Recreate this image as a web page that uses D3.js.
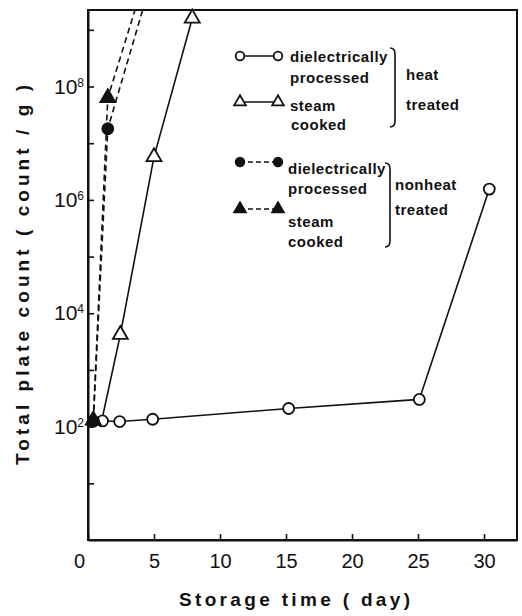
<!DOCTYPE html>
<html>
<head>
<meta charset="utf-8">
<script src="https://cdn.jsdelivr.net/npm/d3@7"></script>
<style>
  body { margin: 0; background: #fff; }
  text { font-family: "Liberation Sans", Arial, sans-serif; fill: #111; }
</style>
</head>
<body>
<div id="chart"></div>
<script>
// Data (storage time in days, count per g)
//= ================================
var heatDielDays = [1.1, 2.4, 4.9, 15.2, 25.1, 30.4];
var heatDielCounts = [126, 123, 135, 209, 302, 1.55e6];

var heatSteamDays = [1.1, 2.45, 5.0, 7.9];
var heatSteamCounts = [148, 4200, 5.75e6, 1.6e9];

// nonheat series run off the top of the plot
var nonDielDays = [0.4, 1.5, 4.5];
var nonDielCounts = [125, 1.8e7, 4.3e9];

var nonSteamDays = [0.4, 1.5, 4.0];
var nonSteamCounts = [130, 6.3e7, 4.8e9];

var xTicks = [0, 5, 10, 15, 20, 25, 30];
var yTicks = [1e1, 1e2, 1e3, 1e4, 1e5, 1e6, 1e7, 1e8, 1e9];
var yLabelExps = [2, 4, 6, 8];

// Step 1: chart size
//= ================================
var svgWidth = 522;
var svgHeight = 616;
var margin = { top: 10, right: 5, bottom: 76, left: 88 };
var width = svgWidth - margin.left - margin.right;
var height = svgHeight - margin.top - margin.bottom;

var svg = d3.select("#chart").append("svg")
  .attr("width", svgWidth)
  .attr("height", svgHeight);

var chartGroup = svg.append("g")
  .attr("transform", `translate(${margin.left}, ${margin.top})`);

var x = d3.scaleLinear().domain([0, 32.5]).range([0, width]);
var y = d3.scaleLog().domain([1, Math.pow(10, 9.35)]).range([height, 0]);

// frame
chartGroup.append("rect")
  .attr("width", width)
  .attr("height", height)
  .attr("fill", "none")
  .attr("stroke", "#111")
  .attr("stroke-width", 2);

// Step 2: axes (ticks point inward)
//= ================================
var xAxisG = chartGroup.append("g")
  .attr("transform", `translate(0,${height})`)
  .call(d3.axisBottom(x).tickValues(xTicks).tickSizeInner(-6).tickSizeOuter(0).tickPadding(14));

xAxisG.selectAll(".tick text")
  .attr("font-size", "20px")
  .attr("font-family", "Liberation Sans, Arial, sans-serif")
  .attr("dx", function (d) { return d === 0 ? "-9px" : 0; });

var yAxisG = chartGroup.append("g")
  .call(d3.axisLeft(y).tickValues(yTicks).tickSizeInner(-6).tickSizeOuter(0).tickPadding(4));

yAxisG.selectAll(".tick text")
  .attr("font-size", "21px")
  .attr("font-family", "Liberation Sans, Arial, sans-serif")
  .each(function (d) {
    var e = Math.round(Math.log10(d));
    var t = d3.select(this).text("");
    if (yLabelExps.indexOf(e) >= 0) {
      t.text("10");
      t.append("tspan").attr("dy", "-0.6em").attr("font-size", "12px").text(e);
    }
  });

chartGroup.selectAll(".domain").attr("stroke", "#111").attr("stroke-width", 2);
chartGroup.selectAll(".tick line").attr("stroke", "#111").attr("stroke-width", 1.6);

// axis titles
svg.append("text")
  .attr("transform", "translate(29, 275) rotate(-90)")
  .attr("text-anchor", "middle")
  .attr("font-size", "19px")
  .attr("font-weight", "bold")
  .attr("textLength", 380)
  .attr("lengthAdjust", "spacing")
  .text("Total  plate  count ( count / g )");

svg.append("text")
  .attr("x", 179)
  .attr("y", 606)
  .attr("font-size", "19px")
  .attr("font-weight", "bold")
  .attr("textLength", 231)
  .attr("lengthAdjust", "spacing")
  .text("Storage  time ( day)");

// Step 3: series
//= ================================
function zip(days, counts) {
  return days.map(function (d, i) { return { day: d, count: counts[i], i: i }; });
}

var series = [
  { key: "heatDiel", data: zip(heatDielDays, heatDielCounts), dash: null, shape: "circle", fill: "#fff", skipFirst: false },
  { key: "heatSteam", data: zip(heatSteamDays, heatSteamCounts), dash: null, shape: "triangle", fill: "#fff", skipFirst: true },
  { key: "nonDiel", data: zip(nonDielDays, nonDielCounts), dash: "6,4", shape: "circle", fill: "#111", skipFirst: false },
  { key: "nonSteam", data: zip(nonSteamDays, nonSteamCounts), dash: "6,4", shape: "triangle", fill: "#111", skipFirst: false }
];

svg.append("defs").append("clipPath").attr("id", "plotClip")
  .append("rect").attr("width", width).attr("height", height);

var line = d3.line()
  .x(function (d) { return x(d.day); })
  .y(function (d) { return y(d.count); });

var plot = chartGroup.append("g").attr("clip-path", "url(#plotClip)");

plot.selectAll("path.series")
  .data(series)
  .enter()
  .append("path")
    .attr("class", "series")
    .attr("d", function (s) { return line(s.data); })
    .attr("fill", "none")
    .attr("stroke", "#111")
    .attr("stroke-width", 1.6)
    .attr("stroke-dasharray", function (s) { return s.dash; });

function drawMarker(g, shape, fill, r) {
  if (shape === "circle") {
    g.append("circle").attr("r", r).attr("fill", fill).attr("stroke", "#111").attr("stroke-width", 1.8);
  } else {
    g.append("path").attr("d", d3.symbol().type(d3.symbolTriangle).size(r * r * 3.2)())
      .attr("fill", fill).attr("stroke", "#111").attr("stroke-width", 1.8);
  }
}

series.forEach(function (s) {
  var pts = s.data.filter(function (d) {
    return !(s.skipFirst && d.i === 0) && d.count <= y.domain()[1];
  });
  pts.forEach(function (d) {
    var g = chartGroup.append("g").attr("transform", `translate(${x(d.day)},${y(d.count)})`);
    drawMarker(g, s.shape, s.fill, 5.5);
  });
});

// Step 4: legend
//= ================================
var legendRows = [
  { y: 56, shape: "circle", fill: "#fff", dash: null },
  { y: 102, shape: "triangle", fill: "#fff", dash: null },
  { y: 162, shape: "circle", fill: "#111", dash: "5,3" },
  { y: 209, shape: "triangle", fill: "#111", dash: "5,3" }
];

legendRows.forEach(function (r) {
  svg.append("line")
    .attr("x1", 240).attr("x2", 278).attr("y1", r.y).attr("y2", r.y)
    .attr("stroke", "#111").attr("stroke-width", 1.5)
    .attr("stroke-dasharray", r.dash);
  [240, 278].forEach(function (cx) {
    drawMarker(svg.append("g").attr("transform", `translate(${cx},${r.y})`), r.shape, r.fill, 4.3);
  });
});

var legendText = [
  { x: 290, y: 62, t: "dielectrically" },
  { x: 290, y: 83, t: "processed" },
  { x: 290, y: 111, t: "steam" },
  { x: 291, y: 130, t: "cooked" },
  { x: 406, y: 80, t: "heat" },
  { x: 406, y: 110, t: "treated" },
  { x: 288, y: 174, t: "dielectrically" },
  { x: 288, y: 194, t: "processed" },
  { x: 288, y: 227, t: "steam" },
  { x: 288, y: 247, t: "cooked" },
  { x: 395, y: 190, t: "nonheat" },
  { x: 395, y: 215, t: "treated" }
];

svg.selectAll("text.legend")
  .data(legendText)
  .enter()
  .append("text")
    .attr("class", "legend")
    .attr("x", function (d) { return d.x; })
    .attr("y", function (d) { return d.y; })
    .attr("font-size", "15px")
    .attr("font-weight", "bold")
    .attr("letter-spacing", "0.5px")
    .text(function (d) { return d.t; });

// braces grouping the legend entries
[[395, 48, 127], [390, 163, 247]].forEach(function (b) {
  var bx = b[0], y0 = b[1], y1 = b[2];
  svg.append("path")
    .attr("d", `M${bx - 5},${y0} Q${bx},${y0} ${bx},${y0 + 6} L${bx},${y1 - 6} Q${bx},${y1} ${bx - 5},${y1}`)
    .attr("fill", "none")
    .attr("stroke", "#111")
    .attr("stroke-width", 1.6);
});
</script>
</body>
</html>
